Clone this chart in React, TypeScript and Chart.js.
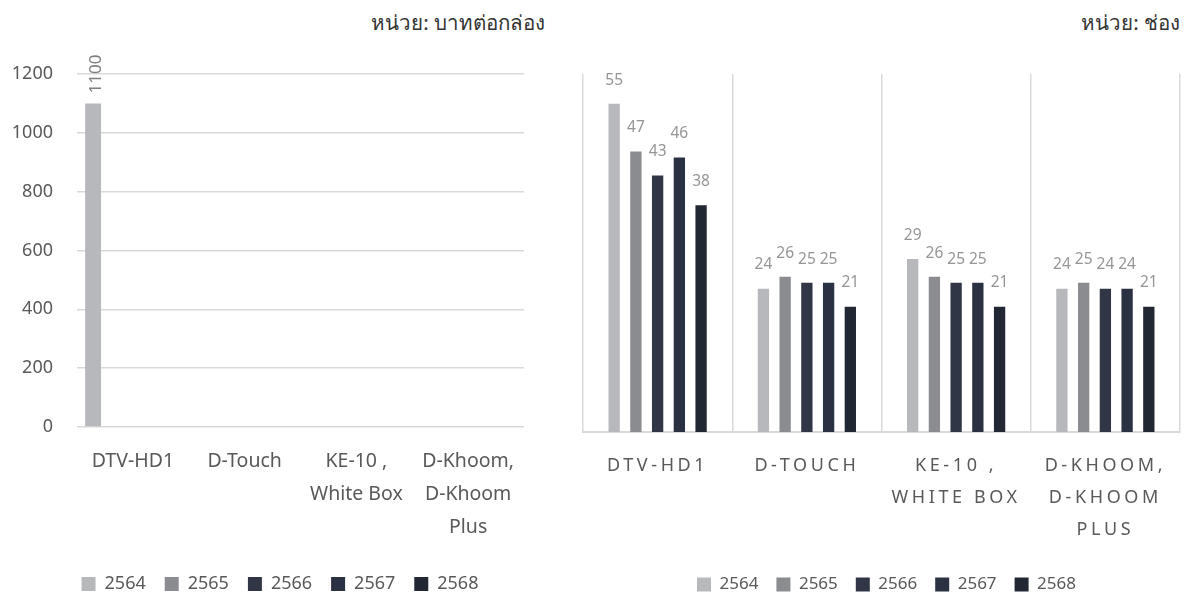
import React, { useEffect, useRef } from "react";
import { Chart, registerables } from "chart.js";

Chart.register(...registerables);

const FONT = '"Noto Sans", "Open Sans", sans-serif';

const years = ["2564", "2565", "2566", "2567", "2568"];
const yearColors = ["#b7b8bb", "#8b8c90", "#303646", "#2a3142", "#212733"];

// Left chart: price (baht per box)
const priceUnit = "หน่วย: บาทต่อกล่อง";
const priceCategories = [["DTV-HD1"], ["D-Touch"], ["KE-10 ,", "White Box"], ["D-Khoom,", "D-Khoom", "Plus"]];
const price2564 = [1100, null, null, null];
const price2565 = [null, null, null, null];
const price2566 = [null, null, null, null];
const price2567 = [null, null, null, null];
const price2568 = [null, null, null, null];
const priceTickMax = 1200;
const priceTickStep = 200;

// Right chart: channels
const channelUnit = "หน่วย: ช่อง";
const channelCategories = [["DTV-HD1"], ["D-TOUCH"], ["KE-10 ,", "WHITE BOX"], ["D-KHOOM,", "D-KHOOM", "PLUS"]];
const channels2564 = [55, 24, 29, 24];
const channels2565 = [47, 26, 26, 25];
const channels2566 = [43, 25, 25, 24];
const channels2567 = [46, 25, 25, 24];
const channels2568 = [38, 21, 21, 21];
const channelMax = 60;

const priceSeries = [price2564, price2565, price2566, price2567, price2568];
const channelSeries = [channels2564, channels2565, channels2566, channels2567, channels2568];

function makeLabelPlugin(opts: { rotate: boolean; size: number; color: string; gap: number; dx?: number; spacingAfter?: string }) {
  return {
    id: "valueLabels",
    afterDatasetsDraw(chart: any) {
      const ctx = chart.ctx;
      ctx.save();
      ctx.font = `${opts.size}px ${FONT}`;
      ctx.fillStyle = opts.color;
      chart.data.datasets.forEach((ds: any, di: number) => {
        const meta = chart.getDatasetMeta(di);
        meta.data.forEach((el: any, i: number) => {
          const v = ds.data[i];
          if (v === null || v === undefined) return;
          const text = String(v);
          if (opts.rotate) {
            ctx.save();
            ctx.translate(el.x + (opts.dx || 0), el.y - opts.gap);
            ctx.rotate(-Math.PI / 2);
            ctx.textAlign = "left";
            ctx.textBaseline = "middle";
            ctx.fillText(text, 0, 0);
            ctx.restore();
          } else {
            ctx.textAlign = "center";
            ctx.textBaseline = "bottom";
            ctx.fillText(text, el.x + (opts.dx || 0), el.y - opts.gap);
          }
        });
      });
      ctx.restore();
      if (opts.spacingAfter) (ctx as any).letterSpacing = opts.spacingAfter;
    },
    afterDraw(chart: any) {
      (chart.ctx as any).letterSpacing = "0px";
    },
  };
}

function buildDatasets(series: (number | null)[][]) {
  return series.map((data, i) => ({
    label: years[i],
    data,
    backgroundColor: yearColors[i],
    borderWidth: 0,
  }));
}

export default function App() {
  const leftRef = useRef<HTMLCanvasElement>(null);
  const rightRef = useRef<HTMLCanvasElement>(null);

  useEffect(() => {
    const left = new Chart(leftRef.current as HTMLCanvasElement, {
      type: "bar",
      data: { labels: priceCategories as any, datasets: buildDatasets(priceSeries) as any },
      options: {
        responsive: false,
        animation: false,
        events: [],
        datasets: { bar: { categoryPercentage: 0.89, barPercentage: 0.8 } },
        layout: { padding: { left: 0, right: 16, top: 74, bottom: 2 } },
        plugins: {
          tooltip: { enabled: false },
          title: { display: false },
          legend: {
            position: "bottom",
            labels: {
              boxWidth: 14,
              boxHeight: 14,
              padding: 19,
              color: "#595959",
              font: { size: 18, family: FONT },
            },
          },
        },
        scales: {
          x: {
            grid: { display: false, drawTicks: false },
            border: { display: false },
            ticks: {
              color: "#595959",
              font: { size: 19.5, family: FONT, lineHeight: "33px" },
              padding: 18,
              maxRotation: 0,
              autoSkip: false,
            },
            afterFit: (s: any) => {
              s.height = s.height - 6;
            },
          },
          y: {
            min: 0,
            max: priceTickMax,
            grid: { color: "#d9d9d9", lineWidth: 1.5, drawTicks: false },
            border: { display: false },
            ticks: {
              stepSize: priceTickStep,
              color: "#595959",
              font: { size: 18, family: FONT },
              padding: 24,
              callback: (v: any) => String(v),
            },
            afterFit: (s: any) => {
              s.width = 77;
            },
          },
          ySpacer: {
            type: "linear",
            position: "right",
            display: true,
            grid: { display: false, drawTicks: false },
            border: { display: false },
            ticks: { display: false },
            afterFit: (s: any) => {
              s.width = 36;
            },
          },
        },
      },
      plugins: [makeLabelPlugin({ rotate: true, size: 17, color: "#7f7f7f", gap: 10, dx: 3 })],
    } as any);

    const right = new Chart(rightRef.current as HTMLCanvasElement, {
      type: "bar",
      data: { labels: channelCategories as any, datasets: buildDatasets(channelSeries) as any },
      options: {
        responsive: false,
        animation: false,
        events: [],
        datasets: { bar: { categoryPercentage: 0.728, barPercentage: 0.52 } },
        layout: { padding: { left: 6, right: 0, top: 74, bottom: 2 } },
        plugins: {
          tooltip: { enabled: false },
          title: { display: false },
          legend: {
            position: "bottom",
            labels: {
              boxWidth: 14,
              boxHeight: 14,
              padding: 18,
              color: "#595959",
              font: { size: 17, family: FONT },
            },
          },
        },
        scales: {
          x: {
            grid: { display: true, offset: true, color: "#d9d9d9", lineWidth: 1.5, drawTicks: false },
            border: { display: true, color: "#d9d9d9", width: 2 },
            ticks: {
              z: 1,
              color: "#595959",
              font: { size: 18, family: FONT, lineHeight: "32px" },
              padding: 18,
              maxRotation: 0,
              autoSkip: false,
            },
            afterFit: (s: any) => {
              s.height = s.height - 6;
            },
          },
          y: {
            display: true,
            position: "right",
            min: 0,
            max: channelMax,
            grid: { display: false, drawTicks: false },
            border: { display: false },
            ticks: { display: false },
            afterFit: (s: any) => {
              s.width = 10;
            },
          },
        },
      },
      plugins: [makeLabelPlugin({ rotate: false, size: 15.5, color: "#959595", gap: 16, spacingAfter: "3.6px" })],
    } as any);

    return () => {
      left.destroy();
      right.destroy();
    };
  }, []);

  const titleStyle: React.CSSProperties = {
    position: "absolute",
    top: 7,
    fontFamily: FONT,
    fontSize: 20.5,
    fontWeight: 400,
    color: "#333333",
    whiteSpace: "nowrap",
    textAlign: "right",
    lineHeight: "30px",
  };

  return (
    <div style={{ position: "fixed", left: 0, top: 0, width: 1190, height: 597, background: "#fff", overflow: "hidden" }}>
      <div style={{ ...titleStyle, right: 1190 - 545 }}>{priceUnit}</div>
      <div style={{ ...titleStyle, right: 1190 - 1180 }}>{channelUnit}</div>
      <canvas
        ref={leftRef}
        width={576}
        height={605}
        style={{ position: "absolute", left: 0, top: 0, width: 576, height: 605 }}
      />
      <canvas
        ref={rightRef}
        width={613}
        height={605}
        style={{ position: "absolute", left: 577, top: 0, width: 613, height: 605 }}
      />
    </div>
  );
}
